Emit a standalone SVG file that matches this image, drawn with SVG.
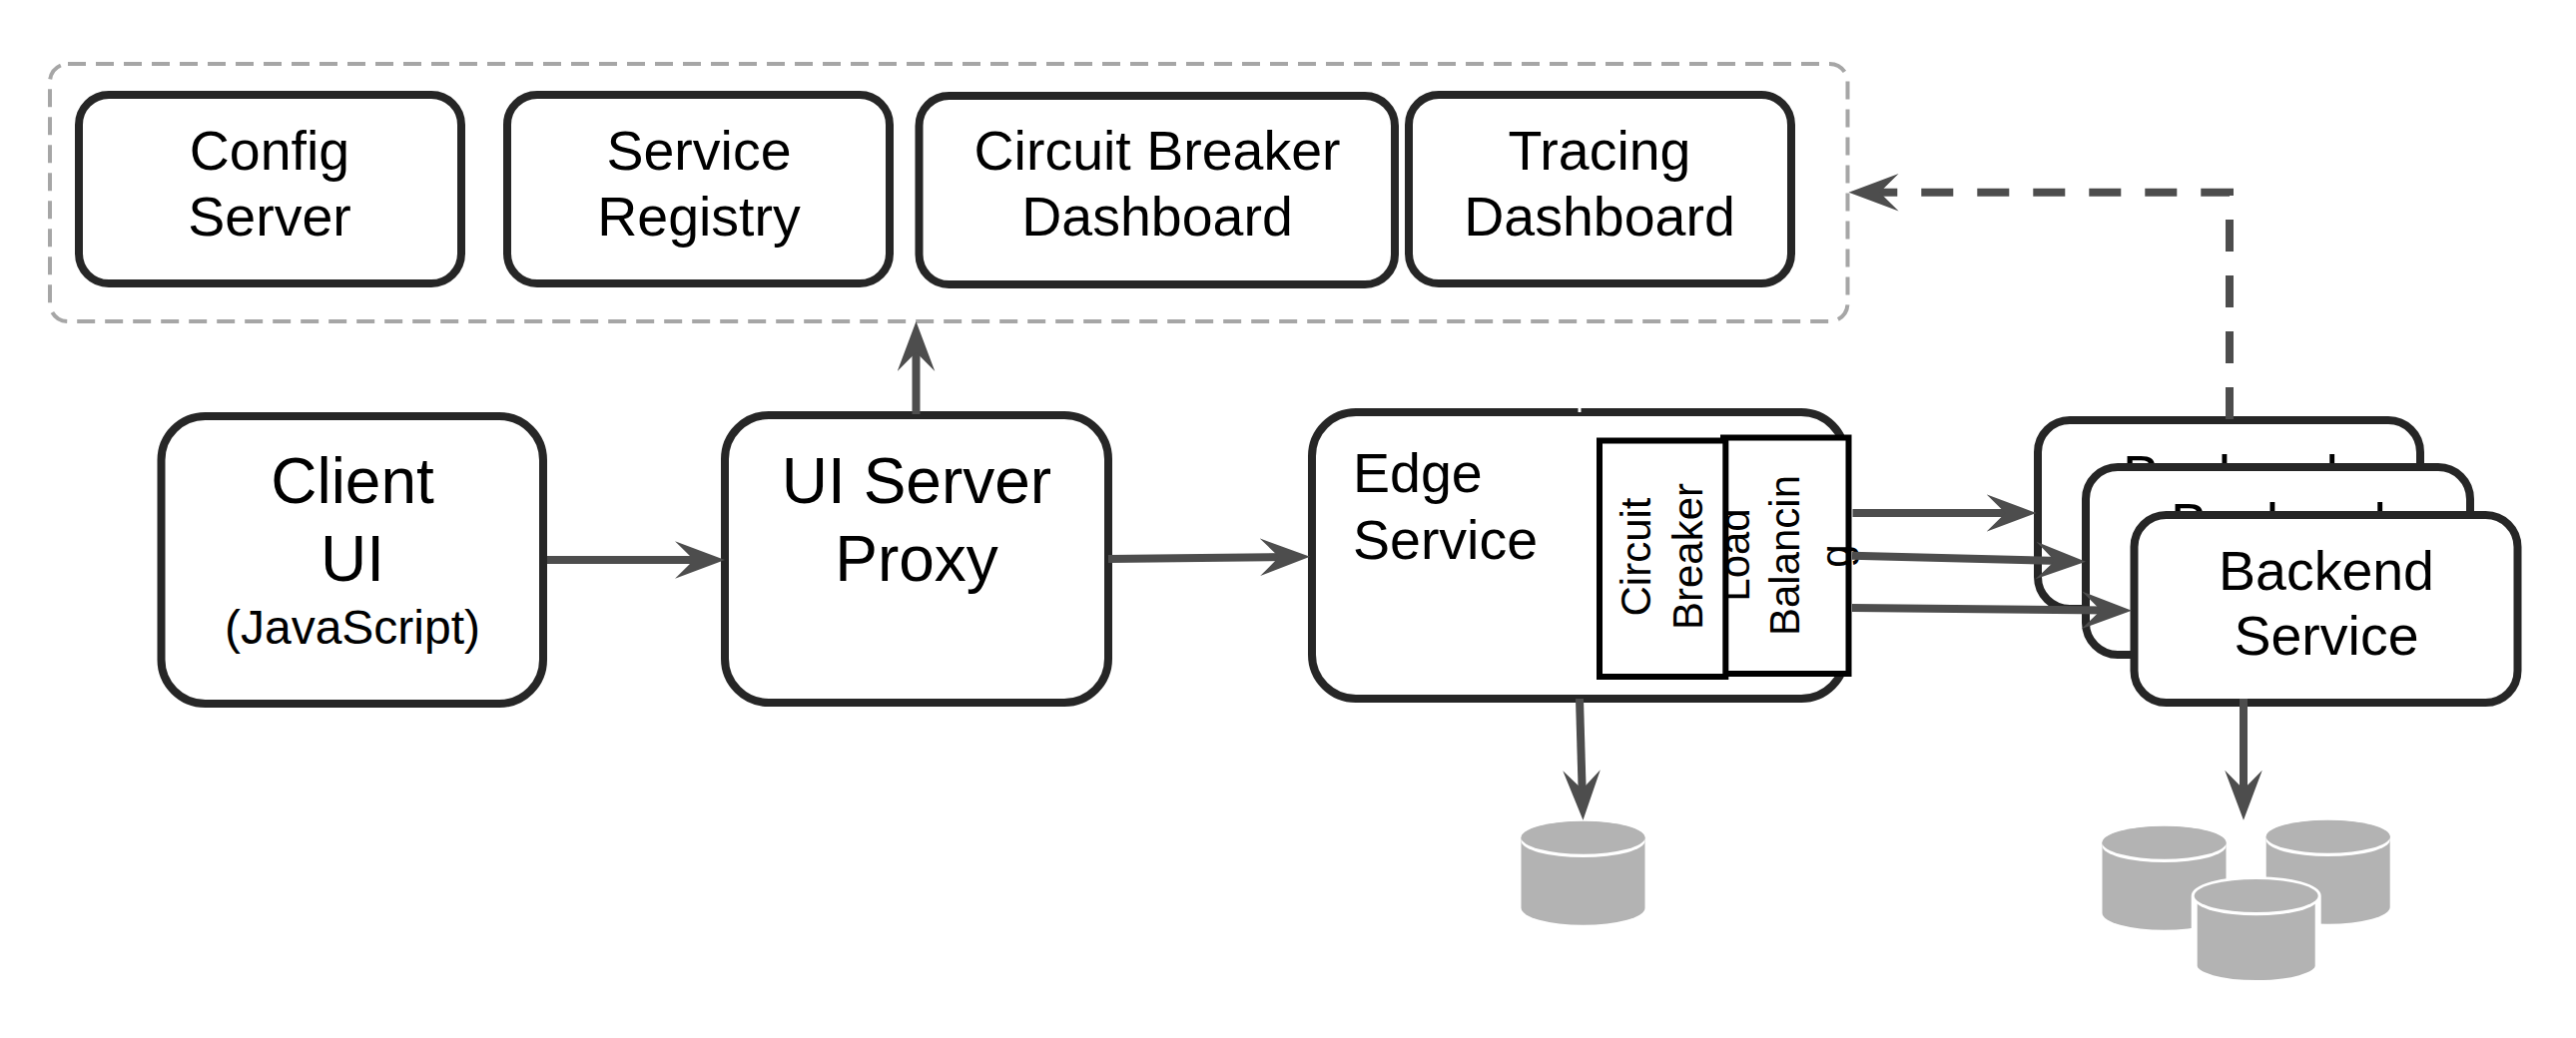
<svg xmlns="http://www.w3.org/2000/svg" xmlns:xlink="http://www.w3.org/1999/xlink" width="2580" height="1040" viewBox="0 0 2580 1040">
<style>
text{font-family:"Liberation Sans",Arial,sans-serif;fill:#000;text-anchor:middle}
.box{fill:#fff;stroke:#262626;stroke-width:8}
.inner{fill:#fff;stroke:#000;stroke-width:6}
.t55{font-size:55.500px}.t63{font-size:64px}.t48{font-size:48px}.t41{font-size:42px}
.conn{fill:none;stroke:#4d4d4d;stroke-width:8;marker-end:url(#arrow)}
.gray{fill:#b3b3b3}
</style>
<defs>
<marker id="arrow" markerUnits="userSpaceOnUse" markerWidth="52" markerHeight="40" refX="26" refY="19" orient="auto">
<path d="M50 19L0 0.2L19 19L0 37.8Z" fill="#4d4d4d"/>
</marker>
<path id="cylBody" d="M-62 17A62 16.7 0 0 1 62 17V87A62 17 0 0 1-62 87Z"/>
<g id="cylTop">
<ellipse cx="0" cy="19.8" rx="62" ry="16.5" fill="#fff"/>
<ellipse cx="0" cy="16.5" rx="62" ry="16.5" fill="#b3b3b3"/>
</g>
</defs>
<rect width="2580" height="1040" fill="#fff"/>
<g id="shared-services">
<rect x="50" y="64" width="1800.500" height="258" rx="18" fill="none" stroke="#a6a6a6" stroke-width="4" stroke-dasharray="18 10"/>
</g>
<g id="config-server"><rect class="box" x="79" y="95" width="383" height="189" rx="30"/><text class="t55" x="270" y="170">Config</text><text class="t55" x="270" y="236">Server</text></g>
<g id="service-registry"><rect class="box" x="508" y="95" width="383" height="189" rx="30"/><text class="t55" x="700" y="170">Service</text><text class="t55" x="700" y="236">Registry</text></g>
<g id="circuit-breaker-dashboard"><rect class="box" x="920.500" y="96" width="476.500" height="189" rx="30"/><text class="t55" x="1159" y="170">Circuit Breaker</text><text class="t55" x="1159" y="236">Dashboard</text></g>
<g id="tracing-dashboard"><rect class="box" x="1411" y="95" width="383" height="189" rx="30"/><text class="t55" x="1602" y="170">Tracing</text><text class="t55" x="1602" y="236">Dashboard</text></g>
<g id="client-ui"><rect class="box" x="161.500" y="417" width="382.500" height="288" rx="44"/><text class="t63" x="353" y="504">Client</text><text class="t63" x="353" y="582">UI</text><text class="t48" x="353" y="645">(JavaScript)</text></g>
<g id="ui-server-proxy"><rect class="box" x="726" y="416" width="384" height="288" rx="44"/><text class="t63" x="918" y="504">UI Server</text><text class="t63" x="918" y="582">Proxy</text></g>
<g id="edge-service"><rect class="box" x="1314" y="413" width="534" height="287" rx="44"/><rect x="1580.500" y="408" width="3" height="5" fill="#fff"/><text class="t55" x="1355" y="493" style="text-anchor:start">Edge</text><text class="t55" x="1355" y="560" style="text-anchor:start">Service</text></g>
<g id="load-balancing"><rect class="inner" x="1726" y="438.500" width="125.500" height="236.500"/><text class="t41" transform="translate(1751.700 556) rotate(-90)">Load</text><text class="t41" transform="translate(1802.300 556.500) rotate(-90)">Balancin</text><text class="t41" transform="translate(1853 557) rotate(-90)">g</text></g>
<g id="circuit-breaker"><rect class="inner" x="1602" y="441.500" width="126.300" height="236.500"/><text class="t41" transform="translate(1653.300 558) rotate(-90)">Circuit</text><text class="t41" transform="translate(1705 557.500) rotate(-90)">Breaker</text></g>
<g id="backend-service-1"><rect class="box" x="2041" y="421" width="383" height="189" rx="32"/><text class="t55" x="2234" y="495">Backend</text><text class="t55" x="2234" y="560">Service</text></g>
<g id="backend-service-2"><rect class="box" x="2089" y="468" width="385" height="188" rx="32"/><text class="t55" x="2282" y="543">Backend</text><text class="t55" x="2282" y="608">Service</text></g>
<g id="backend-service-3"><rect class="box" x="2137.500" y="516" width="384" height="188" rx="32"/><text class="t55" x="2330" y="591">Backend</text><text class="t55" x="2330" y="656">Service</text></g>
<g id="edge-db" transform="translate(1585.500 822.700)"><use xlink:href="#cylBody" class="gray"/><use xlink:href="#cylTop"/></g>
<g id="backend-db-left" transform="translate(2167.500 827.700)"><use xlink:href="#cylBody" class="gray"/><use xlink:href="#cylTop"/></g>
<g id="backend-db-right" transform="translate(2331.700 821.700)"><use xlink:href="#cylBody" class="gray"/><use xlink:href="#cylTop"/></g>
<g id="backend-db-front" transform="translate(2259.700 881)"><use xlink:href="#cylBody" class="gray" stroke="#fff" stroke-width="6"/><use xlink:href="#cylTop"/></g>
<g id="connectors">
<path class="conn" d="M548 561H702"/>
<path class="conn" d="M1110 560L1288 558"/>
<path class="conn" d="M917.500 415V346"/>
<path class="conn" d="M1582 700L1584.800 797.700"/>
<path class="conn" d="M2247 700V797.700"/>
<path class="conn" d="M1855.500 514H2015.500"/>
<path class="conn" d="M1855 556.700L2065 562.100"/>
<path class="conn" d="M1855 609L2111 611.500"/>
<path class="conn" stroke-dasharray="32 24" d="M2233 420V192.700H1875.600"/>
</g>
</svg>
